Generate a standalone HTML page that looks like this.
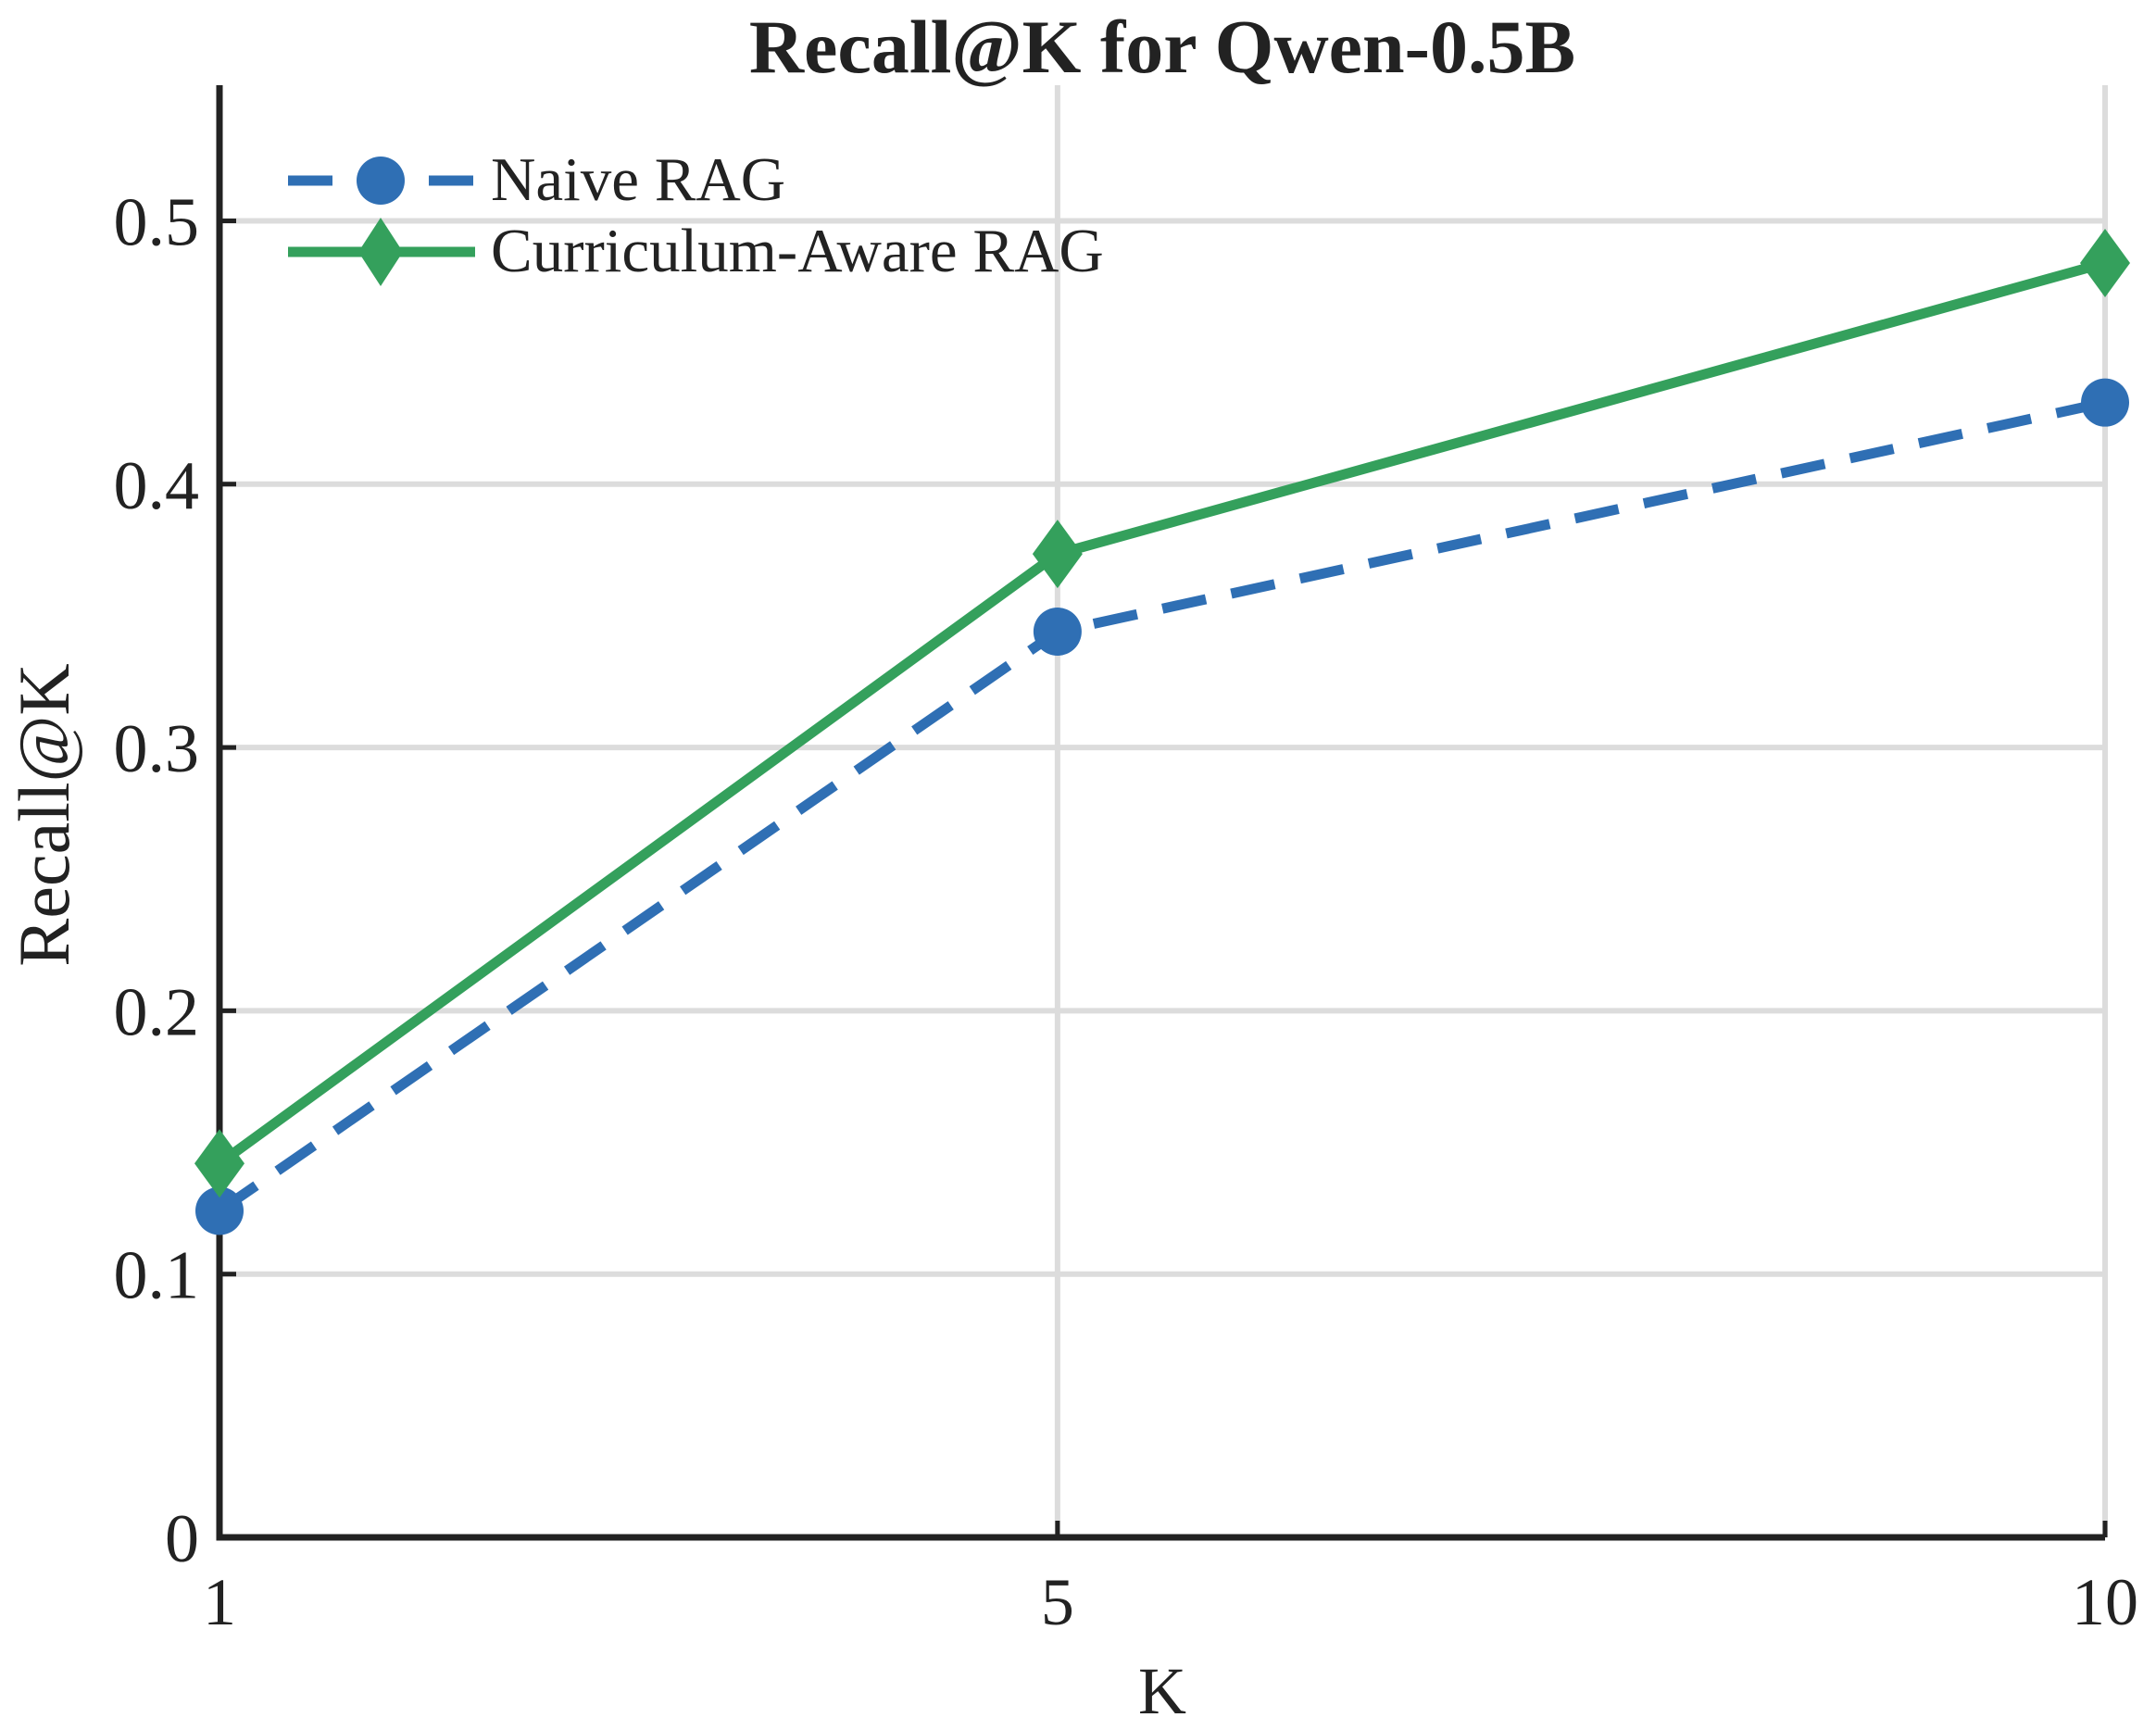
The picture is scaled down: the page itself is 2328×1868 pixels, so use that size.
<!DOCTYPE html>
<html><head><meta charset="utf-8"><style>
html,body{margin:0;padding:0;background:#fff;}
svg{display:block;font-family:"Liberation Serif",serif;}
</style></head><body>
<svg id="chart" width="2328" height="1868" viewBox="0 0 2328 1868" xmlns="http://www.w3.org/2000/svg">
<text x="1255" y="78" text-anchor="middle" font-size="82" font-weight="bold" fill="#222">Recall@K for Qwen-0.5B</text>
<g id="grid"></g>
<g id="axes"></g>
<g id="series"></g>
<text x="1255" y="1850" text-anchor="middle" font-size="72" fill="#222">K</text>
<text transform="translate(74,880) rotate(-90)" text-anchor="middle" font-size="78" fill="#222">Recall@K</text>
<g>
  <line x1="311" y1="195" x2="513" y2="195" stroke="#2f6fb4" stroke-width="11" stroke-dasharray="48,28"/>
  <circle cx="411" cy="195" r="26" fill="#2f6fb4"/>
  <text x="530" y="216" font-size="67" fill="#222">Naive RAG</text>
  <line x1="311" y1="272" x2="513" y2="272" stroke="#34a05c" stroke-width="11"/>
  <polygon points="411,235 435,272 411,309 387,272" fill="#34a05c"/>
  <text x="530" y="293" font-size="67" fill="#222">Curriculum-Aware RAG</text>
</g>
</svg>
<script>
const categories = [1, 5, 10];
const naiveValues = [0.124, 0.344, 0.431];
const curriculumValues = [0.142, 0.3735, 0.484];
const yTicks = [0, 0.1, 0.2, 0.3, 0.4, 0.5];
const yTickLabels = ["0", "0.1", "0.2", "0.3", "0.4", "0.5"];
const xTickLabels = ["1", "5", "10"];

const NS = "http://www.w3.org/2000/svg";
const X0 = 237, X1 = 2273, Y0 = 1660, PER = 2843;
const xs = k => X0 + (k - 1) / 9 * (X1 - X0);
const ys = v => Y0 - v * PER;
function mk(tag, attrs, parent) {
  const e = document.createElementNS(NS, tag);
  for (const k in attrs) e.setAttribute(k, attrs[k]);
  parent.appendChild(e);
  return e;
}
const grid = document.getElementById('grid');
const axes = document.getElementById('axes');
const series = document.getElementById('series');

yTicks.forEach((t, i) => {
  if (t > 0) {
    const g = mk('line', {x1: X0, x2: X1, y1: ys(t), y2: ys(t), stroke: '#dcdcdc', 'stroke-width': 6}, grid);
    
    
  }
  const tk = mk('line', {x1: X0, x2: X0 + 18, y1: ys(t), y2: ys(t), stroke: '#222', 'stroke-width': 5}, axes);
  
  
  const lb = mk('text', {x: X0 - 22, y: ys(t) + 26, 'text-anchor': 'end', 'font-size': 74, fill: '#222'}, axes);
  lb.textContent = yTickLabels[i];
  
  
});
categories.forEach((c, i) => {
  if (i > 0) {
    const g = mk('line', {x1: xs(c), x2: xs(c), y1: 92, y2: Y0, stroke: '#dcdcdc', 'stroke-width': 6}, grid);
    
    
  }
  const tk = mk('line', {x1: xs(c), x2: xs(c), y1: Y0, y2: Y0 - 18, stroke: '#222', 'stroke-width': 5}, axes);
  
  
  const lb = mk('text', {x: xs(c), y: Y0 + 94, 'text-anchor': 'middle', 'font-size': 72, fill: '#222'}, axes);
  lb.textContent = xTickLabels[i];
  
  
});
const ax = mk('path', {d: `M${X0},92 L${X0},${Y0} L${X1},${Y0}`, fill: 'none', stroke: '#222', 'stroke-width': 7}, axes);



const nl = mk('polyline', {points: categories.map((c, i) => xs(c) + ',' + ys(naiveValues[i])).join(' '), fill: 'none', stroke: '#2f6fb4', 'stroke-width': 11, 'stroke-dasharray': '48,28'}, series);


const cl = mk('polyline', {points: categories.map((c, i) => xs(c) + ',' + ys(curriculumValues[i])).join(' '), fill: 'none', stroke: '#34a05c', 'stroke-width': 11}, series);


categories.forEach((c, i) => {
  const p = mk('circle', {cx: xs(c), cy: ys(naiveValues[i]), r: 26, fill: '#2f6fb4'}, series);
  
  
});
categories.forEach((c, i) => {
  const x = xs(c), y = ys(curriculumValues[i]);
  const p = mk('polygon', {points: `${x},${y-37} ${x+27},${y} ${x},${y+37} ${x-27},${y}`, fill: '#34a05c'}, series);
  
  
});
</script>
</body></html>
